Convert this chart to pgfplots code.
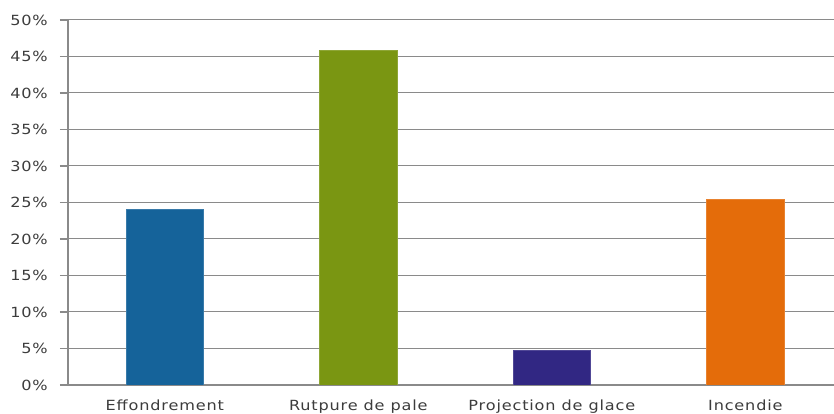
\documentclass[border=0pt]{standalone}
\usepackage{fontspec}
\setmainfont{DejaVu Sans}[FakeStretch=1.15, LetterSpace=6]
\usepackage{pgfplots}
\pgfplotsset{compat=1.18}

\definecolor{cEff}{HTML}{15639A}
\definecolor{cRup}{HTML}{7A9612}
\definecolor{cPro}{HTML}{312783}
\definecolor{cInc}{HTML}{E46C0A}
\definecolor{gridgray}{HTML}{8A8A8A}
\definecolor{txt}{HTML}{3C3C3C}

\begin{document}
\begin{tikzpicture}
\useasboundingbox (-68pt,-29pt) rectangle (766pt,385pt);
\begin{axis}[
  at={(0,0)}, anchor=south west,
  scale only axis,
  width=766pt, height=365pt,
  xmin=-0.5, xmax=3.458,
  ymin=0, ymax=50,
  axis x line=bottom, axis y line=left,
  axis line style={gridgray, line width=1.2pt, -},
  ytick={0,5,...,50},
  yticklabel={\pgfmathprintnumber{\tick}\%},
  /pgf/number format/assume math mode=true,
  ymajorgrids,
  major grid style={gridgray, line width=1pt},
  ytick style={gridgray, line width=1.2pt},
  tick align=outside,
  major tick length=8pt,
  xtick={0,1,2,3},
  xticklabels={Effondrement, Rutpure de pale, Projection de glace, Incendie},
  xtick style={draw=none},
  extra x ticks={0.5,1.5,2.5},
  extra x tick labels={},
  extra x tick style={grid=none, major tick length=5pt,
    tick style={gridgray, line width=1.2pt}},
  tick label style={font=\fontsize{14}{16}\selectfont, text=txt},
  yticklabel style={anchor=east, inner sep=0pt, xshift=-12pt},
  xticklabel style={anchor=north, inner sep=0pt, yshift=-7pt},
  ybar, bar width=77.5pt, bar shift=0pt,
]
\addplot[fill=cEff, draw=cEff!85!white] coordinates {(0,24.1)};
\addplot[fill=cRup, draw=cRup!85!white] coordinates {(1,45.8)};
\addplot[fill=cPro, draw=cPro!85!white] coordinates {(2,4.7)};
\addplot[fill=cInc, draw=cInc!85!white] coordinates {(3,25.4)};
\end{axis}
\end{tikzpicture}
\end{document}
